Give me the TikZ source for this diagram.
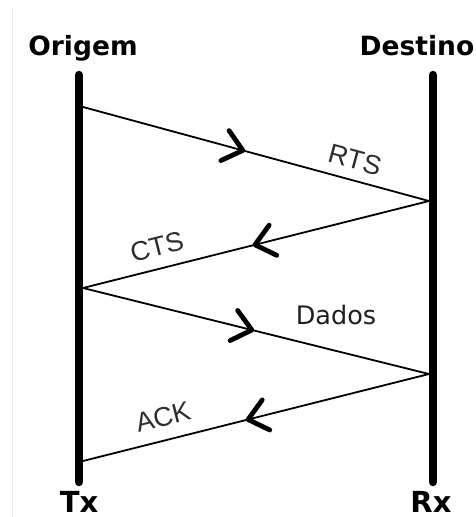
\documentclass[tikz,border=0pt]{standalone}
\usepackage{fontspec}
\setmainfont{DejaVu Sans}
\newfontfamily\arialfont{Liberation Sans}
\usetikzlibrary{decorations.markings}
\tikzset{
  lifeline/.style={line width=8.5pt, line cap=round},
  msg/.style={line width=1.8pt},
  chev/.style={line width=4.8pt, line cap=round, line join=round},
  withchev/.style={postaction={decorate}, decoration={markings,
     mark=at position #1 with {\draw[chev] (-18.5pt,15.5pt) -- (0pt,0pt) -- (-18.5pt,-15.5pt);}}},
  head/.style={font=\fontsize{26.5}{28}\selectfont\bfseries, anchor=base, inner sep=0pt},
  foot/.style={font=\fontsize{29}{31}\selectfont\bfseries, anchor=base, inner sep=0pt},
  msglabel/.style={font=\arialfont\fontsize{27}{29}\selectfont, text=black!82, inner sep=0pt},
  datalabel/.style={font=\fontsize{25.5}{27}\selectfont, text=black!88, inner sep=0pt}
}
\begin{document}
\begin{tikzpicture}[x=1pt,y=-1pt]
\useasboundingbox[fill=white] (0,0) rectangle (475,517);
\draw[black!8, line width=1pt] (12,8) -- (12,517);
% headers and footers
\node[head] (origem) at (83,55) {Origem};
\node[head] (destino) at (417,55) {Destino};
\node[foot] (tx) at (79,512) {Tx};
\node[foot] (rx) at (431,512) {Rx};
% lifelines
\coordinate (ot) at (79,75);
\coordinate (ob) at (79,482);
\coordinate (dt) at (433,75);
\coordinate (db) at (433,482);
\draw[lifeline] (ot) -- (ob);
\draw[lifeline] (dt) -- (db);
% message points
\coordinate (a1) at (83,107);
\coordinate (b1) at (429,201);
\coordinate (a2) at (83,288);
\coordinate (b2) at (429,374);
\coordinate (a3) at (83,461);
\draw[msg, withchev=0.462] (a1) -- (b1);
\draw[msg, withchev=0.503] (b1) -- (a2);
\draw[msg, withchev=0.488] (a2) -- (b2);
\draw[msg, withchev=0.523] (b2) -- (a3);
% labels
\node[msglabel, rotate=-15.2] (rts) at (355,160) {RTS};
\node[msglabel, rotate=14.1] (cts) at (157,247) {CTS};
\node[datalabel] (dados) at (336,315) {Dados};
\node[msglabel, rotate=14.1] (ack) at (163,417) {ACK};
\end{tikzpicture}
\end{document}
